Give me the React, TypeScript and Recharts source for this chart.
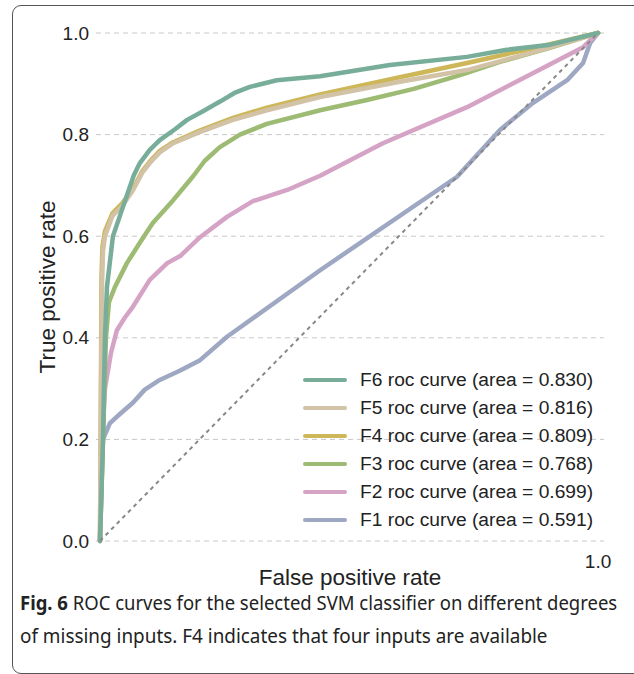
import { useLayoutEffect, useRef, useState } from 'react';
import { LineChart, Line, XAxis, YAxis, CartesianGrid, Legend } from 'recharts';

type Pt = { x: number; y: number };

// ROC points (false positive rate, true positive rate)
const f6: Pt[] = [
  { x: 0, y: 0 }, { x: 0.006, y: 0.2 }, { x: 0.01, y: 0.4 }, { x: 0.014, y: 0.5 },
  { x: 0.026, y: 0.6 }, { x: 0.04, y: 0.64 }, { x: 0.054, y: 0.68 }, { x: 0.068, y: 0.72 },
  { x: 0.08, y: 0.744 }, { x: 0.1, y: 0.77 }, { x: 0.12, y: 0.789 }, { x: 0.15, y: 0.81 },
  { x: 0.175, y: 0.829 }, { x: 0.205, y: 0.845 }, { x: 0.241, y: 0.865 }, { x: 0.27, y: 0.882 },
  { x: 0.301, y: 0.894 }, { x: 0.355, y: 0.907 }, { x: 0.442, y: 0.915 }, { x: 0.582, y: 0.937 },
  { x: 0.737, y: 0.953 }, { x: 0.817, y: 0.967 }, { x: 0.904, y: 0.977 }, { x: 1, y: 1 },
];
const f5: Pt[] = [
  { x: 0, y: 0 }, { x: 0.002, y: 0.3 }, { x: 0.004, y: 0.5 }, { x: 0.006, y: 0.57 },
  { x: 0.01, y: 0.6 }, { x: 0.025, y: 0.64 }, { x: 0.045, y: 0.66 }, { x: 0.066, y: 0.69 },
  { x: 0.085, y: 0.725 }, { x: 0.1, y: 0.744 }, { x: 0.12, y: 0.765 }, { x: 0.147, y: 0.783 },
  { x: 0.2, y: 0.805 }, { x: 0.267, y: 0.829 }, { x: 0.335, y: 0.848 }, { x: 0.442, y: 0.874 },
  { x: 0.602, y: 0.904 }, { x: 0.737, y: 0.927 }, { x: 0.869, y: 0.962 }, { x: 1, y: 1 },
];
const f4: Pt[] = [
  { x: 0, y: 0 }, { x: 0.002, y: 0.32 }, { x: 0.003, y: 0.52 }, { x: 0.005, y: 0.58 },
  { x: 0.01, y: 0.61 }, { x: 0.025, y: 0.645 }, { x: 0.045, y: 0.665 }, { x: 0.066, y: 0.693 },
  { x: 0.085, y: 0.728 }, { x: 0.1, y: 0.747 }, { x: 0.12, y: 0.768 }, { x: 0.147, y: 0.785 },
  { x: 0.2, y: 0.808 }, { x: 0.267, y: 0.833 }, { x: 0.335, y: 0.853 }, { x: 0.442, y: 0.879 },
  { x: 0.602, y: 0.913 }, { x: 0.737, y: 0.941 }, { x: 0.869, y: 0.97 }, { x: 1, y: 1 },
];
const f3: Pt[] = [
  { x: 0, y: 0 }, { x: 0.006, y: 0.2 }, { x: 0.012, y: 0.4 }, { x: 0.018, y: 0.47 },
  { x: 0.03, y: 0.5 }, { x: 0.054, y: 0.547 }, { x: 0.08, y: 0.587 }, { x: 0.106, y: 0.626 },
  { x: 0.147, y: 0.671 }, { x: 0.187, y: 0.718 }, { x: 0.21, y: 0.748 }, { x: 0.24, y: 0.775 },
  { x: 0.281, y: 0.8 }, { x: 0.335, y: 0.821 }, { x: 0.442, y: 0.848 }, { x: 0.536, y: 0.868 },
  { x: 0.63, y: 0.89 }, { x: 0.723, y: 0.917 }, { x: 0.803, y: 0.943 }, { x: 0.9, y: 0.97 },
  { x: 1, y: 1 },
];
const f2: Pt[] = [
  { x: 0, y: 0 }, { x: 0.002, y: 0.15 }, { x: 0.01, y: 0.3 }, { x: 0.022, y: 0.37 },
  { x: 0.034, y: 0.415 }, { x: 0.05, y: 0.44 }, { x: 0.066, y: 0.461 }, { x: 0.1, y: 0.514 },
  { x: 0.135, y: 0.547 }, { x: 0.161, y: 0.561 }, { x: 0.201, y: 0.598 }, { x: 0.255, y: 0.638 },
  { x: 0.307, y: 0.669 }, { x: 0.376, y: 0.691 }, { x: 0.442, y: 0.719 }, { x: 0.568, y: 0.783 },
  { x: 0.737, y: 0.854 }, { x: 0.869, y: 0.921 }, { x: 0.97, y: 0.972 }, { x: 1, y: 1 },
];
const f1: Pt[] = [
  { x: 0, y: 0 }, { x: 0.006, y: 0.2 }, { x: 0.02, y: 0.232 }, { x: 0.04, y: 0.25 },
  { x: 0.066, y: 0.272 }, { x: 0.09, y: 0.298 }, { x: 0.12, y: 0.317 }, { x: 0.16, y: 0.335 },
  { x: 0.201, y: 0.356 }, { x: 0.255, y: 0.402 }, { x: 0.442, y: 0.533 }, { x: 0.717, y: 0.717 },
  { x: 0.803, y: 0.809 }, { x: 0.869, y: 0.862 }, { x: 0.938, y: 0.907 }, { x: 0.97, y: 0.941 },
  { x: 0.984, y: 0.98 }, { x: 1, y: 1 },
];
const chance: Pt[] = [{ x: 0, y: 0 }, { x: 1, y: 1 }];

const seriesNames = ['F1', 'F2', 'F3', 'F4', 'F5', 'F6'];
const seriesAreas = ['0.591', '0.699', '0.768', '0.809', '0.816', '0.830'];
const seriesData = [f1, f2, f3, f4, f5, f6];
const seriesColors = ['#9ea8c3', '#d5a3c5', '#9dbb72', '#cdb759', '#d2c2a6', '#78ad9a'];

const yTicks = [0, 0.2, 0.4, 0.6, 0.8, 1.0];
const xTicks = [1.0];

const FONT = '"Liberation Sans", Arial, sans-serif';
const CAPTION_FONT = '"Noto Sans", "Open Sans", sans-serif';

const YTick = ({ y, payload }: any) => (
  <text x={89} y={y} dy={6.5} textAnchor="end" fontSize={19} fill="#222" fontFamily={FONT}>
    {payload.value.toFixed(1)}
  </text>
);

const XTick = ({ x, payload }: any) => (
  <text x={x} y={568} textAnchor="middle" fontSize={19} fill="#222" fontFamily={FONT}>
    {payload.value.toFixed(1)}
  </text>
);

const RocLegend = () => {
  const order = [5, 4, 3, 2, 1, 0];
  return (
    <div style={{ fontFamily: FONT }}>
      {order.map((i) => (
        <div key={i} style={{ display: 'flex', alignItems: 'center', height: 28 }}>
          <div
            style={{ width: 44, height: 4, borderRadius: 2, background: seriesColors[i], marginRight: 13 }}
          />
          <span style={{ fontSize: 19.2, color: '#222', whiteSpace: 'nowrap' }}>
            {seriesNames[i]} roc curve (area = {seriesAreas[i]})
          </span>
        </div>
      ))}
    </div>
  );
};

// squeeze a caption line horizontally so it spans the same width as the figure's
const FitLine = ({ width, top, children }: { width: number; top: number; children: any }) => {
  const ref = useRef<HTMLDivElement>(null);
  const [scale, setScale] = useState(1);
  useLayoutEffect(() => {
    if (ref.current) {
      const w = ref.current.scrollWidth;
      if (w > 0) setScale(width / w);
    }
  }, [width]);
  return (
    <div
      ref={ref}
      style={{
        position: 'absolute',
        left: 20,
        top,
        whiteSpace: 'nowrap',
        fontFamily: CAPTION_FONT,
        fontSize: 20,
        lineHeight: '20px',
        color: '#222',
        transform: `scaleX(${scale})`,
        transformOrigin: 'left top',
      }}
    >
      {children}
    </div>
  );
};

export default function App() {
  return (
    <div
      style={{
        position: 'absolute',
        left: 0,
        top: 0,
        width: 634,
        height: 674,
        overflow: 'hidden',
        background: '#fff',
      }}
    >
      <div
        style={{
          position: 'absolute',
          left: 12,
          top: 5,
          width: 660,
          height: 667,
          border: '1.5px solid #555',
          borderRadius: 9,
        }}
      />
      <div style={{ position: 'absolute', left: 0, top: 0 }}>
        <LineChart width={634} height={592} margin={{ top: 33, right: 30, bottom: 0, left: 0 }}>
          <CartesianGrid
            vertical={false}
            horizontal
            stroke="#c8c8c8"
            strokeDasharray="5 4"
            horizontalValues={yTicks}
          />
          <XAxis
            type="number"
            dataKey="x"
            domain={[-0.008, 1.012]}
            ticks={xTicks}
            tick={<XTick />}
            tickLine={false}
            axisLine={false}
            height={51}
            allowDuplicatedCategory={false}
            label={({ viewBox }: any) => (
              <text
                x={viewBox.x + viewBox.width / 2}
                y={585}
                textAnchor="middle"
                fontSize={22.5}
                fill="#222"
                fontFamily={FONT}
              >
                False positive rate
              </text>
            )}
          />
          <YAxis
            type="number"
            dataKey="y"
            domain={[0, 1]}
            ticks={yTicks}
            tick={<YTick />}
            tickLine={false}
            axisLine={false}
            width={96}
            label={({ viewBox }: any) => {
              const cy = viewBox.y + viewBox.height / 2;
              return (
                <text
                  x={47}
                  y={cy}
                  transform={`rotate(-90, 47, ${cy})`}
                  textAnchor="middle"
                  dominantBaseline="central"
                  fontSize={22.5}
                  fill="#222"
                  fontFamily={FONT}
                >
                  True positive rate
                </text>
              );
            }}
          />
          <Legend
            layout="vertical"
            align="center"
            verticalAlign="middle"
            content={<RocLegend />}
            wrapperStyle={{ left: 303, top: 366, width: 320, height: 170 }}
          />
          {seriesData.map((d, i) => (
            <Line
              key={seriesNames[i]}
              data={d}
              dataKey="y"
              type="linear"
              stroke={seriesColors[i]}
              strokeWidth={4.5}
              strokeLinejoin="round"
              strokeLinecap="round"
              dot={false}
              activeDot={false}
              isAnimationActive={false}
            />
          ))}
          <Line
            data={chance}
            dataKey="y"
            type="linear"
            stroke="#888"
            strokeWidth={2}
            strokeDasharray="4 4"
            dot={false}
            activeDot={false}
            isAnimationActive={false}
            legendType="none"
          />
        </LineChart>
      </div>
      <FitLine width={597} top={593}>
        <b>Fig. 6</b> ROC curves for the selected SVM classifier on different degrees
      </FitLine>
      <FitLine width={528} top={626}>
        of missing inputs. F4 indicates that four inputs are available
      </FitLine>
    </div>
  );
}
